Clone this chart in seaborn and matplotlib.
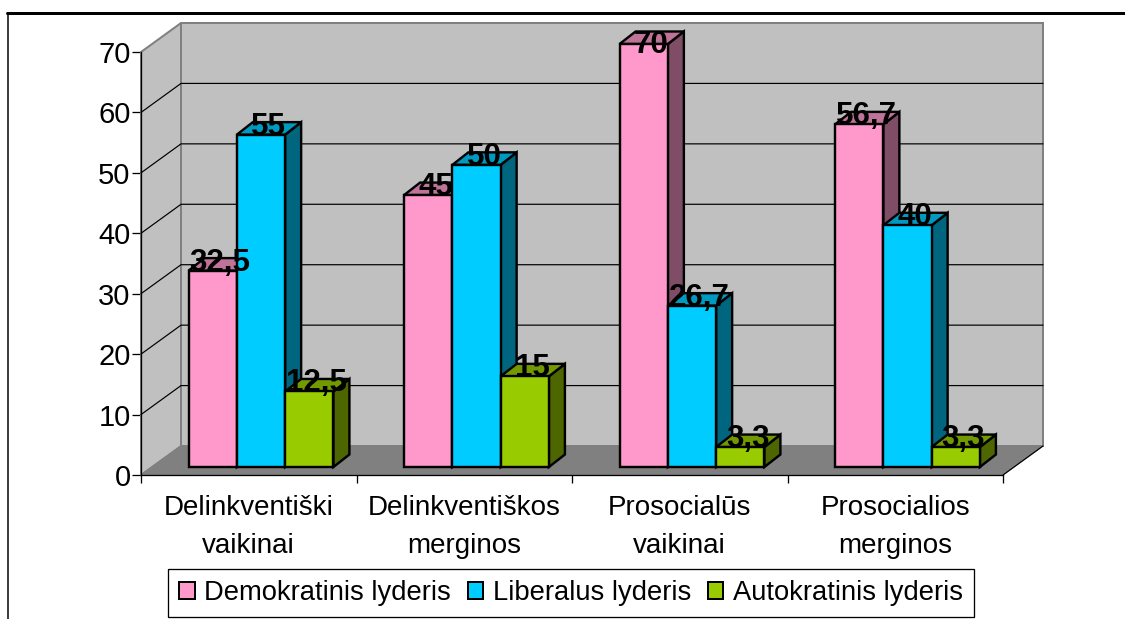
#!/usr/bin/env python3
import matplotlib
matplotlib.use("Agg")
import matplotlib.pyplot as plt
from matplotlib.colors import to_rgb
from matplotlib.lines import Line2D
from matplotlib.patches import Polygon
import pandas as pd
import seaborn as sns

# Data
categories = ["Delinkventiški\nvaikinai", "Delinkventiškos\nmerginos",
              "Prosocialūs\nvaikinai", "Prosocialios\nmerginos"]
leaders = ["Demokratinis lyderis", "Liberalus lyderis", "Autokratinis lyderis"]
demokratinis = [32.5, 45, 70, 56.7]
liberalus = [55, 50, 26.7, 40]
autokratinis = [12.5, 15, 3.3, 3.3]
y_ticks = [0, 10, 20, 30, 40, 50, 60, 70]
bar_colors = ["#FF99CC", "#00CCFF", "#99CC00"]

W, H = 1125, 619
PX = 0.72  # one pixel in points at dpi 100


def axes_rect(left, right, top, bottom):
    """pixel box (from top-left) to figure fractions"""
    return [left / W, 1 - bottom / H, (right - left) / W, (bottom - top) / H]


def shade(color, factor):
    return tuple(c * factor for c in to_rgb(color))


df = pd.DataFrame({
    "category": categories * 3,
    "leader": [leaders[0]] * 4 + [leaders[1]] * 4 + [leaders[2]] * 4,
    "value": demokratinis + liberalus + autokratinis,
})

sns.set_theme(style="white")
plt.rcParams["font.family"] = ["Liberation Sans", "DejaVu Sans"]

fig = plt.figure(figsize=(W / 100, H / 100), dpi=100)
fig.patch.set_facecolor("white")

# Front plane of the 3D box: carries the axes, walls and floor
frame = fig.add_axes(axes_rect(141, 1003, 52, 475))
frame.set_xlim(-0.5, 3.5)
frame.set_ylim(0, 70)
frame.patch.set_visible(False)
step_x = 215.5
step_y = 423 / 70
wall_dx = 40 / step_x
wall_dy = 29 / step_y

x0, x1 = -0.5, 3.5
frame.add_patch(Polygon([(x0 + wall_dx, wall_dy), (x1 + wall_dx, wall_dy),
                         (x1 + wall_dx, 70 + wall_dy), (x0 + wall_dx, 70 + wall_dy)],
                        closed=True, fc="#C0C0C0", ec="#808080", lw=2 * PX, clip_on=False, zorder=1))
frame.add_patch(Polygon([(x0, 0), (x0 + wall_dx, wall_dy), (x0 + wall_dx, 70 + wall_dy), (x0, 70)],
                        closed=True, fc="#C0C0C0", ec="#808080", lw=2 * PX, clip_on=False, zorder=1))
frame.add_patch(Polygon([(x0, 0), (x1, 0), (x1 + wall_dx, wall_dy), (x0 + wall_dx, wall_dy)],
                        closed=True, fc="#808080", ec="#808080", lw=1 * PX, clip_on=False, zorder=2))
for tick in y_ticks[1:-1]:
    frame.plot([x0, x0 + wall_dx, x1 + wall_dx], [tick, tick + wall_dy, tick + wall_dy],
               color="black", lw=1.2 * PX, clip_on=False, zorder=3)
frame.plot([x1, x1 + wall_dx], [0, wall_dy], color="black", lw=1.2 * PX, clip_on=False, zorder=3)

sns.despine(ax=frame, top=True, right=True)
for side in ["left", "bottom"]:
    frame.spines[side].set_color("black")
    frame.spines[side].set_linewidth(1.3 * PX)
    frame.spines[side].set_zorder(4)
frame.set_yticks(y_ticks)
frame.set_xticks([-0.5, 0.5, 1.5, 2.5, 3.5], labels=[])
frame.set_xticks(range(4), labels=categories, minor=True)
frame.tick_params(axis="y", which="major", left=True, length=9 * PX, width=1.3 * PX,
                  color="black", labelsize=21, pad=1, labelcolor="black")
frame.tick_params(axis="x", which="major", bottom=True, length=8 * PX, width=1.3 * PX, color="black")
frame.tick_params(axis="x", which="minor", bottom=False, length=0, labelsize=20,
                  pad=14.5, labelcolor="black")
for label in frame.get_xticklabels(minor=True):
    label.set_linespacing(1.58)

# Bars sit half way into the box
ax = fig.add_axes(axes_rect(153.25, 1015.25, 44, 467))
ax.patch.set_visible(False)
sns.barplot(data=df, x="category", y="value", hue="leader", order=categories,
            hue_order=leaders, palette=bar_colors, saturation=1, width=0.672, gap=0,
            edgecolor="black", linewidth=2.4 * PX, ax=ax)
ax.set_xlim(-0.5, 3.5)
ax.set_ylim(0, 70)
ax.axis("off")

depth_x = 16 / step_x
depth_y = 12.5 / step_y
label_shift = 7.5 / step_x
label_top = 68.5  # the top label is pushed down to stay inside the plot area
for c, color in enumerate(bar_colors):
    for i, bar in enumerate(ax.containers[c]):
        left, w, h = bar.get_x(), bar.get_width(), bar.get_height()
        right = left + w
        z = 10 + i * 10 + c * 3
        bar.set_zorder(z + 2)
        bar.set_clip_on(False)
        ax.add_patch(Polygon([(right, 0), (right + depth_x, depth_y),
                              (right + depth_x, h + depth_y), (right, h)],
                             closed=True, fc=shade(color, 0.5), ec="black",
                             lw=2.4 * PX, clip_on=False, zorder=z))
        ax.add_patch(Polygon([(left, h), (right, h), (right + depth_x, h + depth_y),
                              (left + depth_x, h + depth_y)],
                             closed=True, fc=shade(color, 0.75), ec="black",
                             lw=2.4 * PX, clip_on=False, zorder=z + 1))
        ax.text(left + w / 2 + label_shift, min(h, label_top), f"{h:g}".replace(".", ","),
                ha="center", va="baseline", fontsize=22.5, fontweight="bold",
                color="black", zorder=100, clip_on=False)

# Legend box under the chart
sns.move_legend(ax, "center", bbox_to_anchor=(571 / W, 1 - 593 / H), bbox_transform=fig.transFigure,
                ncol=3, title=None, frameon=True, fontsize=19.7, fancybox=False,
                edgecolor="black", facecolor="white", framealpha=1, borderpad=0.4,
                handlelength=0.56, handleheight=0.56, handletextpad=0.36, columnspacing=0.6,
                borderaxespad=0, labelcolor="black")
ax.get_legend().get_frame().set_linewidth(1.3 * PX)
for handle in ax.get_legend().get_patches():
    handle.set_edgecolor("black")
    handle.set_linewidth(2 * PX)

# Outer chart border, cut off at the right and bottom
fig.add_artist(Line2D([7 / W, 1], [1 - 13 / H, 1 - 13 / H], color="black", lw=3 * PX))
fig.add_artist(Line2D([8 / W, 8 / W], [1 - 13 / H, 0], color="black", lw=1.5 * PX))

plt.savefig("out.png", dpi=100)
plt.close()
